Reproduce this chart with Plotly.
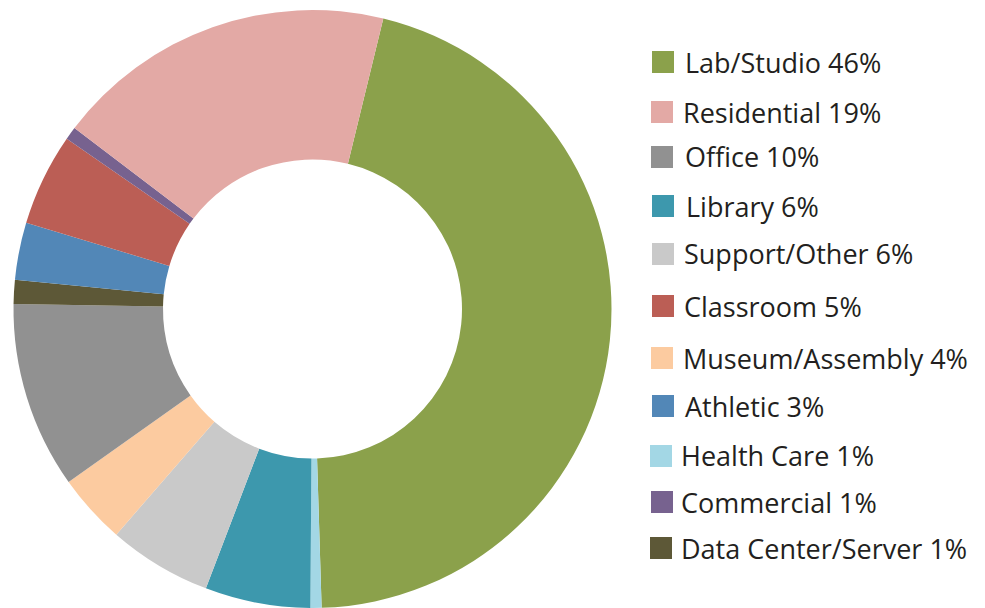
import plotly.graph_objects as go

# Slice data (clockwise order as drawn)
slice_labels = ["Lab/Studio", "Health Care", "Library", "Support/Other", "Museum/Assembly",
                "Office", "Data Center/Server", "Athletic", "Classroom", "Commercial", "Residential"]
slice_values = [45.8, 0.6, 5.7, 5.6, 3.8, 10.1, 1.3, 3.1, 5.0, 0.7, 18.5]
slice_colors = ["#8BA14B", "#A3D7E5", "#3D98AD", "#C9C9C9", "#FCCBA0",
                "#919191", "#5D5837", "#5287B7", "#BB5E55", "#77628F", "#E3A9A5"]

# Legend (order and rounded labels as shown)
legend_labels = ["Lab/Studio", "Residential", "Office", "Library", "Support/Other", "Classroom",
                 "Museum/Assembly", "Athletic", "Health Care", "Commercial", "Data Center/Server"]
legend_pcts = [46, 19, 10, 6, 6, 5, 4, 3, 1, 1, 1]

W, H = 985, 608
MT = 10
PH = H - MT

fig = go.Figure(go.Pie(
    labels=slice_labels,
    values=slice_values,
    marker=dict(colors=slice_colors, line=dict(width=0)),
    hole=0.5,
    sort=False,
    direction="clockwise",
    rotation=13.7,
    textinfo="none",
    hoverinfo="label+percent",
    showlegend=False,
    domain=dict(x=[(312.5 - 299) / W, (312.5 + 299) / W], y=[0, 1]),
))

# legend layout (pixel positions)
sq_x = [652, 651, 651, 652, 652, 652, 651, 652, 650, 651, 650]
txt_x = [683, 681, 683, 684, 682, 682, 681, 683, 679, 679, 679]
cy = [62, 112, 157, 206, 254, 306, 358, 406, 456, 502, 548]
SQ = 22

def py(y):
    return (H - y) / PH

def px(x):
    return x / W

shapes = []
annotations = []
color_map = dict(zip(slice_labels, slice_colors))
for lab, pct, sx, tx, c in zip(legend_labels, legend_pcts, sq_x, txt_x, cy):
    shapes.append(dict(type="rect", xref="paper", yref="paper",
                       x0=px(sx), x1=px(sx + SQ), y0=py(c + SQ / 2), y1=py(c - SQ / 2),
                       fillcolor=color_map[lab], line=dict(width=0)))
    annotations.append(dict(xref="paper", yref="paper", x=px(tx), y=py(c),
                            xanchor="left", yanchor="middle", showarrow=False,
                            text=f"{lab} {pct}%",
                            font=dict(family="Open Sans", size=27, color="#231F20")))

fig.update_layout(
    width=W, height=H,
    margin=dict(l=0, r=0, t=MT, b=0),
    paper_bgcolor="white", plot_bgcolor="white",
    shapes=shapes, annotations=annotations,
)

fig.write_html("out.html", config={"displayModeBar": False},
               post_script="document.body.style.margin='0';")
